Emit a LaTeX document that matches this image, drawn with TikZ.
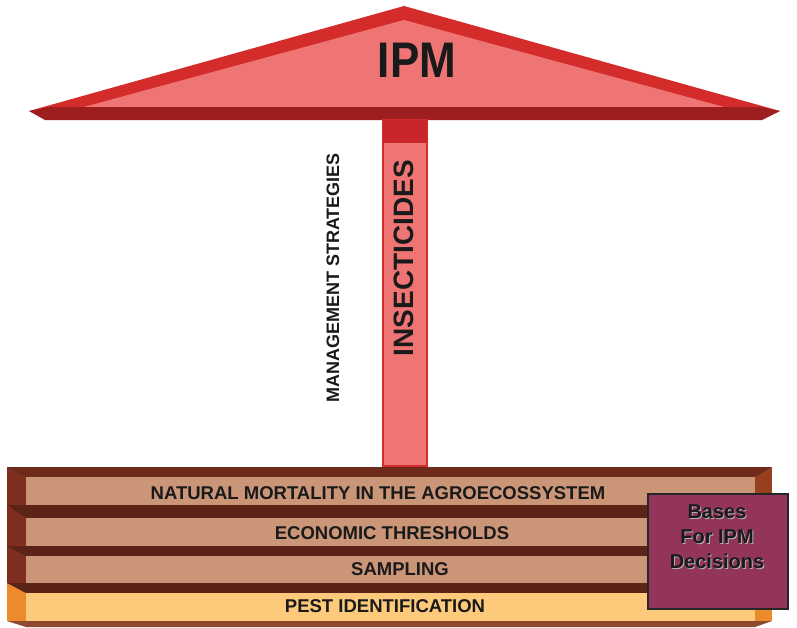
\documentclass[tikz,border=0pt]{standalone}
\usepackage{fontspec}
\setmainfont{Liberation Sans}
\definecolor{roofred}{HTML}{D42B2B}
\definecolor{roofpink}{HTML}{EF7575}
\definecolor{roofdark}{HTML}{9C1E1E}
\definecolor{stemtop}{HTML}{C8262A}
\definecolor{slabtop}{HTML}{5C2317}
\definecolor{slabtopA}{HTML}{6E2B1C}
\definecolor{slabside}{HTML}{7E2F1F}
\definecolor{slabsideR}{HTML}{97401F}
\definecolor{slabfront}{HTML}{CB9578}
\definecolor{baseside}{HTML}{EC8A2C}
\definecolor{basefront}{HTML}{FDC97A}
\definecolor{basebottom}{HTML}{8E4A2E}
\definecolor{decision}{HTML}{93355B}
\definecolor{ink}{HTML}{1A1A1A}
\tikzset{
  label/.style={font=\bfseries\fontsize{18.5}{20}\selectfont, text=ink, inner sep=0pt},
  sidelabel/.style={font=\bfseries\fontsize{18}{20}\selectfont, text=ink, inner sep=0pt, rotate=90},
  stemlabel/.style={font=\bfseries\fontsize{28}{30}\selectfont, text=ink, inner sep=0pt, rotate=90},
  boxlabel/.style={font=\bfseries\fontsize{20}{25}\selectfont, align=center, inner sep=0pt},
}
\begin{document}
\begin{tikzpicture}[x=1pt,y=-1pt]
\useasboundingbox[fill=white] (0,0) rectangle (797,627);

% roof
\fill[roofred] (29,111) -- (404,6) -- (780,111) -- cycle;
\fill[roofpink] (80,108) -- (404,20) -- (728,108) -- cycle;
\fill[roofdark] (29,111) -- (50,107) -- (760,107) -- (780,111) -- (762,120) -- (45,120) -- cycle;
\node[font=\bfseries\fontsize{50}{50}\selectfont, text=ink, inner sep=0pt, xscale=0.88] (ipm) at (417,60) {IPM};

% stem
\fill[roofpink, draw=roofred, line width=1.2pt] (383,120) rectangle (427,466);
\fill[stemtop] (383,120) rectangle (427,143);
\node[stemlabel] (insect) at (404,258) {INSECTICIDES};
\node[sidelabel] (mgmt) at (333,278) {MANAGEMENT STRATEGIES};

% foundation slabs: outer sides, top bevels, front faces
\fill[slabside] (7,467) rectangle (26,583);
\fill[slabsideR] (755,467) rectangle (772,583);
\fill[baseside] (7,583) rectangle (26,621);
\fill[baseside] (755,583) rectangle (772,621);

\fill[slabtopA] (7,467) -- (772,467) -- (755,477) -- (26,477) -- cycle;
\fill[slabfront] (26,477) rectangle (755,505);
\fill[slabtop] (7,505) -- (772,505) -- (755,518) -- (26,518) -- cycle;
\fill[slabfront] (26,518) rectangle (755,546);
\fill[slabtop] (7,546) -- (772,546) -- (755,556) -- (26,556) -- cycle;
\fill[slabfront] (26,556) rectangle (755,583);
\fill[slabtop] (7,583) -- (772,583) -- (755,593) -- (26,593) -- cycle;
\fill[basefront] (26,593) rectangle (755,621);
\fill[basebottom] (7,621) -- (772,621) -- (755,627) -- (26,627) -- cycle;

\node[label] (natural) at (378,493) {NATURAL MORTALITY IN THE AGROECOSSYSTEM};
\node[label] (econ) at (392,533) {ECONOMIC THRESHOLDS};
\node[label] (samp) at (400,569) {SAMPLING};
\node[label] (pest) at (385,606) {PEST IDENTIFICATION};

% decision box
\node[fill=decision, draw=black!85, line width=2pt, minimum width=140pt, minimum height=115pt, anchor=north west, inner sep=0pt] (bases) at (647,493) {};
\node[boxlabel, text=white!70!black] (basesshadow) at ([shift={(1pt,-1pt)}]717,537) {Bases\\For IPM\\Decisions};
\node[boxlabel, text=ink] (basestext) at (717,537) {Bases\\For IPM\\Decisions};
\end{tikzpicture}
\end{document}
